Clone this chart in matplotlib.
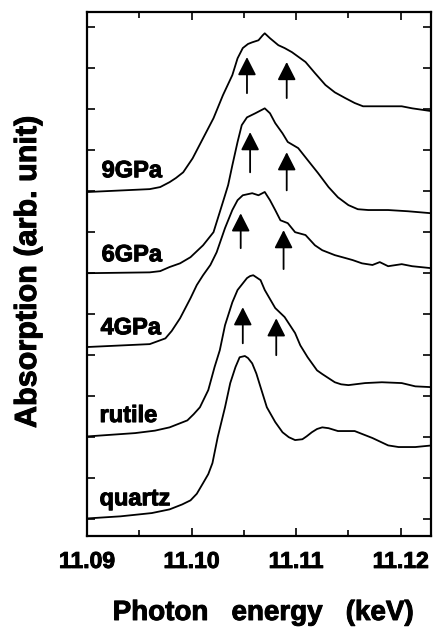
import matplotlib
matplotlib.use("Agg")
import matplotlib.pyplot as plt
import matplotlib.patheffects as pe
from matplotlib.ticker import MultipleLocator, FixedLocator

plt.rcParams['font.family'] = ['Liberation Sans', 'DejaVu Sans']
plt.rcParams['font.weight'] = 'bold'

# ---------------- data (photon energy in keV, absorption in arb. units, offset) ----------------
quartz_e = [11.0901, 11.0932, 11.0962, 11.0979, 11.0991, 11.0999, 11.1005, 11.1011, 11.1016,
            11.1020, 11.1025, 11.1032, 11.1037, 11.1042, 11.1046, 11.1051, 11.1054, 11.1058,
            11.1062, 11.1066, 11.1072, 11.1080, 11.1087, 11.1093, 11.1099, 11.1106, 11.1110,
            11.1115, 11.1120, 11.1125, 11.1131, 11.1140, 11.1156, 11.1173, 11.1188, 11.1198,
            11.1214, 11.1230]
quartz_a = [0.02, 0.07, 0.15, 0.24, 0.36, 0.46, 0.62, 0.88, 1.10,
            1.37, 2.00, 2.73, 3.32, 3.71, 3.95, 3.98, 3.93, 3.80,
            3.55, 3.22, 2.73, 2.37, 2.12, 2.00, 1.93, 1.95, 2.02,
            2.12, 2.20, 2.24, 2.22, 2.15, 2.15, 1.98, 1.80, 1.76,
            1.76, 1.80]

rutile_e = [11.0901, 11.0946, 11.0965, 11.0979, 11.0996, 11.1002, 11.1008, 11.1016, 11.1022,
            11.1027, 11.1032, 11.1039, 11.1044, 11.1053, 11.1056, 11.1059, 11.1066, 11.1070,
            11.1075, 11.1080, 11.1089, 11.1099, 11.1104, 11.1111, 11.1120, 11.1125, 11.1131,
            11.1137, 11.1143, 11.1150, 11.1166, 11.1182, 11.1201, 11.1214, 11.1230]
rutile_a = [2.02, 2.10, 2.16, 2.24, 2.41, 2.56, 2.73, 3.15, 3.71,
            4.12, 4.73, 5.29, 5.59, 5.88, 5.93, 5.95, 5.83, 5.59,
            5.37, 5.15, 4.93, 4.54, 4.24, 3.95, 3.63, 3.54, 3.44,
            3.34, 3.29, 3.27, 3.32, 3.34, 3.32, 3.24, 3.22]

gpa4_e = [11.0901, 11.0960, 11.0975, 11.0981, 11.0989, 11.0999, 11.1005, 11.1011, 11.1018,
          11.1024, 11.1032, 11.1039, 11.1044, 11.1049, 11.1058, 11.1064, 11.1070, 11.1075,
          11.1080, 11.1085, 11.1092, 11.1099, 11.1109, 11.1118, 11.1125, 11.1137, 11.1147,
          11.1154, 11.1163, 11.1173, 11.1180, 11.1188, 11.1201, 11.1211, 11.1230]
gpa4_a = [4.20, 4.27, 4.41, 4.59, 4.90, 5.39, 5.71, 5.95, 6.20,
          6.51, 7.10, 7.54, 7.78, 7.90, 7.95, 7.90, 7.98, 7.78,
          7.54, 7.29, 7.22, 7.00, 6.93, 6.68, 6.56, 6.44, 6.37,
          6.32, 6.24, 6.20, 6.27, 6.17, 6.22, 6.17, 6.12]

gpa6_e = [11.0901, 11.0960, 11.0970, 11.0979, 11.0989, 11.0999, 11.1011, 11.1021, 11.1027,
          11.1032, 11.1035, 11.1039, 11.1044, 11.1048, 11.1053, 11.1061, 11.1067, 11.1070,
          11.1075, 11.1080, 11.1087, 11.1092, 11.1102, 11.1111, 11.1121, 11.1131, 11.1140,
          11.1150, 11.1159, 11.1169, 11.1188, 11.1207, 11.1230]
gpa6_a = [6.00, 6.02, 6.05, 6.15, 6.24, 6.39, 6.68, 7.00, 7.49,
          7.90, 8.15, 8.63, 9.20, 9.61, 9.80, 9.90, 9.98, 10.02,
          9.90, 9.66, 9.41, 9.20, 9.05, 8.76, 8.44, 8.10, 7.85,
          7.66, 7.56, 7.54, 7.54, 7.51, 7.46]

gpa9_e = [11.0901, 11.0960, 11.0970, 11.0979, 11.0985, 11.0992, 11.1001, 11.1011, 11.1021,
          11.1030, 11.1039, 11.1044, 11.1049, 11.1054, 11.1058, 11.1064, 11.1068, 11.1070,
          11.1075, 11.1083, 11.1089, 11.1096, 11.1109, 11.1118, 11.1128, 11.1137, 11.1147,
          11.1156, 11.1164, 11.1201, 11.1211, 11.1230]
gpa9_a = [7.98, 8.05, 8.10, 8.22, 8.32, 8.46, 8.80, 9.29, 9.78,
          10.34, 10.83, 11.24, 11.49, 11.59, 11.63, 11.68, 11.80, 11.85,
          11.73, 11.56, 11.49, 11.39, 11.15, 10.88, 10.59, 10.41, 10.27,
          10.15, 10.07, 10.07, 10.02, 9.95]

labels = ['9GPa', '6GPa', '4GPa', 'rutile', 'quartz']
label_e = [11.0914, 11.0914, 11.0913, 11.0912, 11.0912]
label_a = [8.34, 6.29, 4.51, 2.37, 0.34]

# arrows: energy, tail absorption, tip absorption
arrow_e = [11.1053, 11.1091, 11.1056, 11.1091, 11.1047, 11.1088, 11.1049, 11.1081]
arrow_tail = [10.39, 10.27, 8.46, 8.02, 6.61, 6.10, 4.29, 4.00]
arrow_tip = [11.27, 11.15, 9.44, 8.95, 7.46, 7.05, 5.17, 4.90]

xticks = [11.09, 11.10, 11.11, 11.12]
xticklabels = ['11.09', '11.10', '11.11', '11.12']
yticks = list(range(0, 13))

# ---------------- figure ----------------
fig = plt.figure(figsize=(4.33, 6.27), dpi=100)
ax = fig.add_axes([0.2009, 0.1451, 0.7945, 0.8358])

heavy = [pe.withStroke(linewidth=0.7, foreground='black')]

for e, a in [(quartz_e, quartz_a), (rutile_e, rutile_a), (gpa4_e, gpa4_a),
             (gpa6_e, gpa6_a), (gpa9_e, gpa9_a)]:
    ax.plot(e, a, color='black', lw=1.3, solid_joinstyle='round')

for t, x, y in zip(labels, label_e, label_a):
    ax.text(x, y, t, fontsize=17, fontweight='bold', ha='left', va='baseline',
            path_effects=heavy)

for x, y0, y1 in zip(arrow_e, arrow_tail, arrow_tip):
    ax.annotate('', xy=(x, y1), xytext=(x, y0),
                arrowprops=dict(arrowstyle='-|>,head_length=0.55,head_width=0.28',
                                mutation_scale=20, lw=1.3, color='black',
                                shrinkA=0, shrinkB=0))

ax.set_xlim(11.09, 11.1229)
ax.set_ylim(-0.41, 12.37)
ax.xaxis.set_major_locator(FixedLocator(xticks))
ax.set_xticklabels(xticklabels)
ax.xaxis.set_minor_locator(MultipleLocator(0.005))
ax.yaxis.set_major_locator(FixedLocator(yticks))
ax.set_yticklabels([])

ax.tick_params(axis='both', which='both', direction='in', top=True, right=True,
               width=1.2, color='black')
ax.tick_params(axis='both', which='major', length=6)
ax.tick_params(axis='x', which='minor', length=4)
ax.tick_params(axis='x', which='major', labelsize=16.5, pad=10)
for lab in ax.get_xticklabels():
    lab.set_fontweight('bold')
    lab.set_path_effects(heavy)
for s in ax.spines.values():
    s.set_linewidth(1.6)

fig.text(0.608, 1 - 620 / 627, 'Photon   energy   (keV)', fontsize=20,
         fontweight='bold', ha='center', va='baseline', path_effects=heavy)
fig.text(0.030, 0.566, 'Absorption (arb. unit)', fontsize=22, fontweight='bold',
         rotation=90, ha='left', va='center', path_effects=heavy)

fig.savefig('out.png', dpi=100)
